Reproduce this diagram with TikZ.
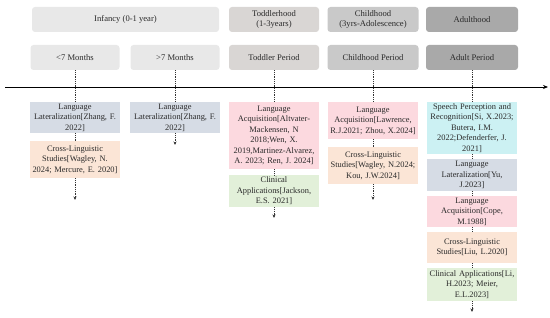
\documentclass[tikz,border=0pt]{standalone}
\usepackage{fontspec}
\setmainfont{Liberation Serif}
\usetikzlibrary{arrows.meta}
\definecolor{cinf}{HTML}{E8E8E8}
\definecolor{ctod}{HTML}{D9D6D4}
\definecolor{cchi}{HTML}{C9C9C9}
\definecolor{cadu}{HTML}{A9A9A9}
\definecolor{clat}{HTML}{D6DCE5}
\definecolor{ccro}{HTML}{FBE5D6}
\definecolor{cacq}{HTML}{FCD9DF}
\definecolor{ccli}{HTML}{E2F0D9}
\definecolor{cspe}{HTML}{CCF1F3}
\definecolor{ctxt}{HTML}{2A2A2A}
\begin{document}
\begin{tikzpicture}[x=1pt,y=-1pt,
  stage/.style={rounded corners=3pt, inner sep=0pt, minimum height=25pt, text=ctxt,
    font=\fontsize{8.6}{10}\selectfont, align=center},
  item/.style={inner xsep=0pt, inner ysep=0pt, minimum width=90pt, text width=90pt, align=center,
    text=ctxt, font=\fontsize{8.4}{10.5}\selectfont},
  link/.style={densely dotted, thick, black!80},
  tip/.style={link, -{Stealth[length=3.5pt,width=3pt]}}
]
\useasboundingbox (0,0) rectangle (550,318);
% top row
\node[stage, fill=cinf, minimum width=187pt] (inf) at (125.5,19.5) {Infancy (0-1 year)};
\node[stage, fill=ctod, minimum width=90pt] (tod) at (274,19.5) {Toddlerhood\\(1-3years)};
\node[stage, fill=cchi, minimum width=91pt] (chi) at (373,19.5) {Childhood\\(3yrs-Adolescence)};
\node[stage, fill=cadu, minimum width=92pt] (adu) at (472,19.5) {Adulthood};
% second row
\node[stage, fill=cinf, minimum width=89pt] (m1) at (75,57.5) {<7 Months};
\node[stage, fill=cinf, minimum width=89pt] (m2) at (175,57.5) {>7 Months};
\node[stage, fill=ctod, minimum width=90pt] (m3) at (274,57.5) {Toddler Period};
\node[stage, fill=cchi, minimum width=91pt] (m4) at (373,57.5) {Childhood Period};
\node[stage, fill=cadu, minimum width=92pt] (m5) at (472,57.5) {Adult Period};
% axis
\coordinate (ax0) at (5,87);
\coordinate (ax1) at (548,87);
\draw[thick, -{Stealth[length=5pt,width=4pt]}] (ax0) -- (ax1);
% column 1
\node[item, fill=clat, minimum height=31pt] (a1) at (75,117.5) {Language\\Lateralization[Zhang, F.\\2022]};
\node[item, fill=ccro, minimum height=37pt] (b1) at (75,159.5) {Cross-Linguistic\\Studies[Wagley, N.\\2024; Mercure, E. 2020]};
\coordinate (e1) at (75,200);
\draw[link] (m1) -- (a1);
\draw[link] (a1) -- (b1);
\draw[tip] (b1) -- (e1);
% column 2
\node[item, fill=clat, minimum height=31pt] (a2) at (175,117.5) {Language\\Lateralization[Zhang, F.\\2022]};
\coordinate (e2) at (175,145);
\draw[link] (m2) -- (a2);
\draw[tip] (a2) -- (e2);
% column 3
\node[item, fill=cacq, minimum height=67pt] (a3) at (274,135.5) {Language\\Acquisition[Altvater-\\Mackensen, N\\2018;Wen, X.\\2019,Martinez-Alvarez,\\A. 2023; Ren, J. 2024]};
\node[item, fill=ccli, minimum height=32pt] (b3) at (274,191) {Clinical\\Applications[Jackson,\\E.S. 2021]};
\coordinate (e3) at (274,218);
\draw[link] (m3) -- (a3);
\draw[link] (a3) -- (b3);
\draw[tip] (b3) -- (e3);
% column 4
\node[item, fill=cacq, minimum height=37pt] (a4) at (373,120.5) {Language\\Acquisition[Lawrence,\\R.J.2021; Zhou, X.2024]};
\node[item, fill=ccro, minimum height=37pt] (b4) at (373,165.5) {Cross-Linguistic\\Studies[Wagley, N.2024;\\Kou, J.W.2024]};
\coordinate (e4) at (373,200);
\draw[link] (m4) -- (a4);
\draw[link] (a4) -- (b4);
\draw[tip] (b4) -- (e4);
% column 5
\node[item, fill=cspe, minimum height=52pt] (a5) at (472,128) {Speech Perception and\\Recognition[Si, X.2023;\\Butera, I.M.\\2022;Defenderfer, J.\\2021]};
\node[item, fill=clat, minimum height=32pt] (b5) at (472,175) {Language\\Lateralization[Yu,\\J.2023]};
\node[item, fill=cacq, minimum height=31pt] (c5) at (472,211.5) {Language\\Acquisition[Cope,\\M.1988]};
\node[item, fill=ccro, minimum height=31pt] (d5) at (472,247.5) {Cross-Linguistic\\Studies[Liu, L.2020]};
\node[item, fill=ccli, minimum height=33pt] (f5) at (472,284.5) {Clinical Applications[Li,\\H.2023; Meier,\\E.L.2023]};
\coordinate (e5) at (472,312);
\draw[link] (m5) -- (a5);
\draw[link] (a5) -- (b5);
\draw[link] (b5) -- (c5);
\draw[link] (c5) -- (d5);
\draw[link] (d5) -- (f5);
\draw[tip] (f5) -- (e5);
\end{tikzpicture}
\end{document}
